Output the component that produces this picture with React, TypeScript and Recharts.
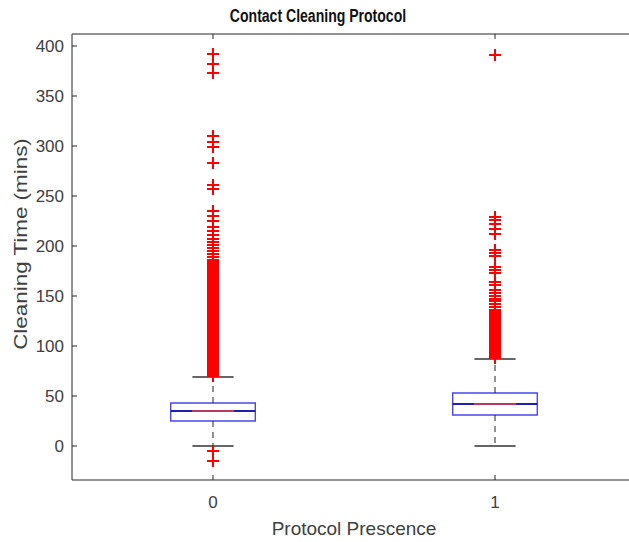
import React from "react";
import {
  ComposedChart,
  Label,
  ReferenceArea,
  ReferenceLine,
  Scatter,
  XAxis,
  YAxis,
} from "recharts";

// group labels and box statistics (minutes)
const categories = ["0", "1"];
const lowerWhisker = [0, 0];
const q1 = [25, 31];
const median = [35, 42];
const q3 = [43, 53];
const upperWhisker = [69, 87];

// outliers
const outliers0 = [
  -5, -15, 392, 382, 373, 310, 304, 299, 283, 261, 257, 235, 230, 225, 219,
  215, 211, 207, 204, 201, 198, 195, 192, 189, 186, 184, 182, 180, 178, 176,
  174, 172, 170, 168, 166, 164, 162, 160, 158, 156, 154, 152, 150, 148, 146,
  144, 142, 140, 138, 136, 134, 132, 130, 128, 126, 124, 122, 120, 118, 116,
  114, 112, 110, 108, 106, 104, 102, 100, 98, 96, 94, 92, 90, 88, 86, 84, 82,
  80, 78, 76, 74, 72, 70,
];
const outliers1 = [
  391, 229, 226, 222, 217, 212, 196, 193, 190, 179, 176, 173, 164, 161, 156,
  153, 150, 147, 145, 142, 139, 136, 134, 132, 130, 128, 126, 124, 122, 120,
  118, 116, 114, 112, 110, 108, 106, 104, 102, 100, 98, 96, 94, 92, 90, 88,
];

const yTicks = [0, 50, 100, 150, 200, 250, 300, 350, 400];
const yDomain = [-34, 412];

const axisColor = "#262626";
const textColor = "#404040";
const font = "'Liberation Sans', Arial, Helvetica, sans-serif";
const boxHalf = 0.15;
const capHalf = 0.073;

const Cross = (props: any) => {
  const { cx, cy } = props;
  if (cx == null || cy == null) return null;
  const x = Math.round(cx);
  const y = Math.round(cy);
  const s = 6;
  return (
    <path
      d={`M${x - s},${y}H${x + s}M${x},${y - s}V${y + s}`}
      stroke="#ff0000"
      strokeWidth={2}
      fill="none"
      shapeRendering="crispEdges"
    />
  );
};

const YTick = (props: any) => {
  const { x, payload } = props;
  const y = payload.coordinate;
  return (
    <g>
      <line x1={x} x2={x + 5} y1={y} y2={y} stroke={axisColor} />
      <text
        x={x - 8}
        y={y}
        textAnchor="end"
        dominantBaseline="central"
        fill={textColor}
        fontSize={17}
        fontFamily={font}
      >
        {payload.value}
      </text>
    </g>
  );
};

const XTick = (props: any) => {
  const { y, payload } = props;
  const x = payload.coordinate;
  return (
    <g>
      <line x1={x} x2={x} y1={y} y2={y - 5} stroke={axisColor} />
      <text
        x={x}
        y={y + 22}
        textAnchor="middle"
        dominantBaseline="central"
        fill={textColor}
        fontSize={17}
        fontFamily={font}
      >
        {categories[payload.value - 1]}
      </text>
    </g>
  );
};

const TopTick = (props: any) => {
  const { y, payload } = props;
  const x = payload.coordinate;
  return <line x1={x} x2={x} y1={y} y2={y + 5} stroke={axisColor} />;
};

const YLabel = (props: any) => {
  const { viewBox } = props;
  const cx = viewBox.x + 20;
  const cy = viewBox.y + viewBox.height / 2 - 13;
  return (
    <text
      transform={`translate(${cx},${cy}) rotate(-90) scale(1.18,1)`}
      textAnchor="middle"
      dominantBaseline="central"
      fill={textColor}
      fontSize={19}
      fontFamily={font}
    >
      Cleaning Time (mins)
    </text>
  );
};

export default function App() {
  const positions = categories.map((_, i) => i + 1);
  return (
    <div
      style={{
        position: "fixed",
        left: 0,
        top: 0,
        width: 629,
        height: 542,
        overflow: "hidden",
        background: "#fff",
      }}
    >
      <div
        style={{
          position: "absolute",
          left: 0,
          width: 636,
          top: 6,
          textAlign: "center",
          fontFamily: font,
          fontWeight: "bold",
          fontSize: 18,
          color: "#111",
          transform: "scaleX(0.78)",
          transformOrigin: "318px 0",
        }}
      >
        Contact Cleaning Protocol
      </div>
      <ComposedChart
        width={760}
        height={542}
        margin={{ top: 14, right: 124, bottom: 0, left: 0 }}
      >
        <XAxis
          xAxisId="bottom"
          dataKey="x"
          type="number"
          domain={[0.5, 2.5]}
          ticks={positions}
          allowDataOverflow
          height={62}
          stroke={axisColor}
          tickLine={false}
          tickSize={0}
          tickMargin={0}
          tick={<XTick />}
        >
          <Label
            value="Protocol Prescence"
            position="insideBottom"
            offset={7}
            fill={textColor}
            fontSize={19}
            fontFamily={font}
          />
        </XAxis>
        <XAxis
          xAxisId="top"
          orientation="top"
          dataKey="x"
          type="number"
          domain={[0.5, 2.5]}
          ticks={positions}
          allowDataOverflow
          height={20}
          stroke={axisColor}
          tickLine={false}
          tickSize={0}
          tickMargin={0}
          tick={<TopTick />}
        />
        <YAxis
          dataKey="y"
          type="number"
          domain={yDomain}
          ticks={yTicks}
          allowDataOverflow
          width={72}
          stroke={axisColor}
          tickLine={false}
          tickSize={0}
          tickMargin={0}
          tick={<YTick />}
        >
          <Label content={<YLabel />} />
        </YAxis>

        {positions.map((p, i) => (
          <ReferenceLine
            key={`wu${i}`}
            xAxisId="bottom"
            segment={[
              { x: p, y: q3[i] },
              { x: p, y: upperWhisker[i] },
            ]}
            stroke="#222"
            strokeDasharray="6 5"
          />
        ))}
        {positions.map((p, i) => (
          <ReferenceLine
            key={`wl${i}`}
            xAxisId="bottom"
            segment={[
              { x: p, y: q1[i] },
              { x: p, y: lowerWhisker[i] },
            ]}
            stroke="#222"
            strokeDasharray="6 5"
          />
        ))}
        {positions.map((p, i) => (
          <ReferenceLine
            key={`cu${i}`}
            xAxisId="bottom"
            segment={[
              { x: p - capHalf, y: upperWhisker[i] },
              { x: p + capHalf, y: upperWhisker[i] },
            ]}
            stroke="#333"
            strokeWidth={1.3}
          />
        ))}
        {positions.map((p, i) => (
          <ReferenceLine
            key={`cl${i}`}
            xAxisId="bottom"
            segment={[
              { x: p - capHalf, y: lowerWhisker[i] },
              { x: p + capHalf, y: lowerWhisker[i] },
            ]}
            stroke="#333"
            strokeWidth={1.3}
          />
        ))}
        {positions.map((p, i) => (
          <ReferenceArea
            key={`box${i}`}
            xAxisId="bottom"
            x1={p - boxHalf}
            x2={p + boxHalf}
            y1={q1[i]}
            y2={q3[i]}
            fill="#fff"
            fillOpacity={1}
            stroke="#4848ee"
            strokeWidth={1.4}
          />
        ))}
        {positions.map((p, i) => (
          <ReferenceLine
            key={`mb${i}`}
            xAxisId="bottom"
            segment={[
              { x: p - boxHalf, y: median[i] },
              { x: p + boxHalf, y: median[i] },
            ]}
            stroke="#2020b0"
            strokeWidth={1.8}
          />
        ))}
        {positions.map((p, i) => (
          <ReferenceLine
            key={`mr${i}`}
            xAxisId="bottom"
            segment={[
              { x: p - boxHalf / 2, y: median[i] },
              { x: p + boxHalf / 2, y: median[i] },
            ]}
            stroke="#f04040"
            strokeWidth={1.4}
          />
        ))}

        <Scatter
          xAxisId="bottom"
          data={outliers0.map((v) => ({ x: 1, y: v }))}
          shape={<Cross />}
          isAnimationActive={false}
        />
        <Scatter
          xAxisId="bottom"
          data={outliers1.map((v) => ({ x: 2, y: v }))}
          shape={<Cross />}
          isAnimationActive={false}
        />
      </ComposedChart>
    </div>
  );
}
